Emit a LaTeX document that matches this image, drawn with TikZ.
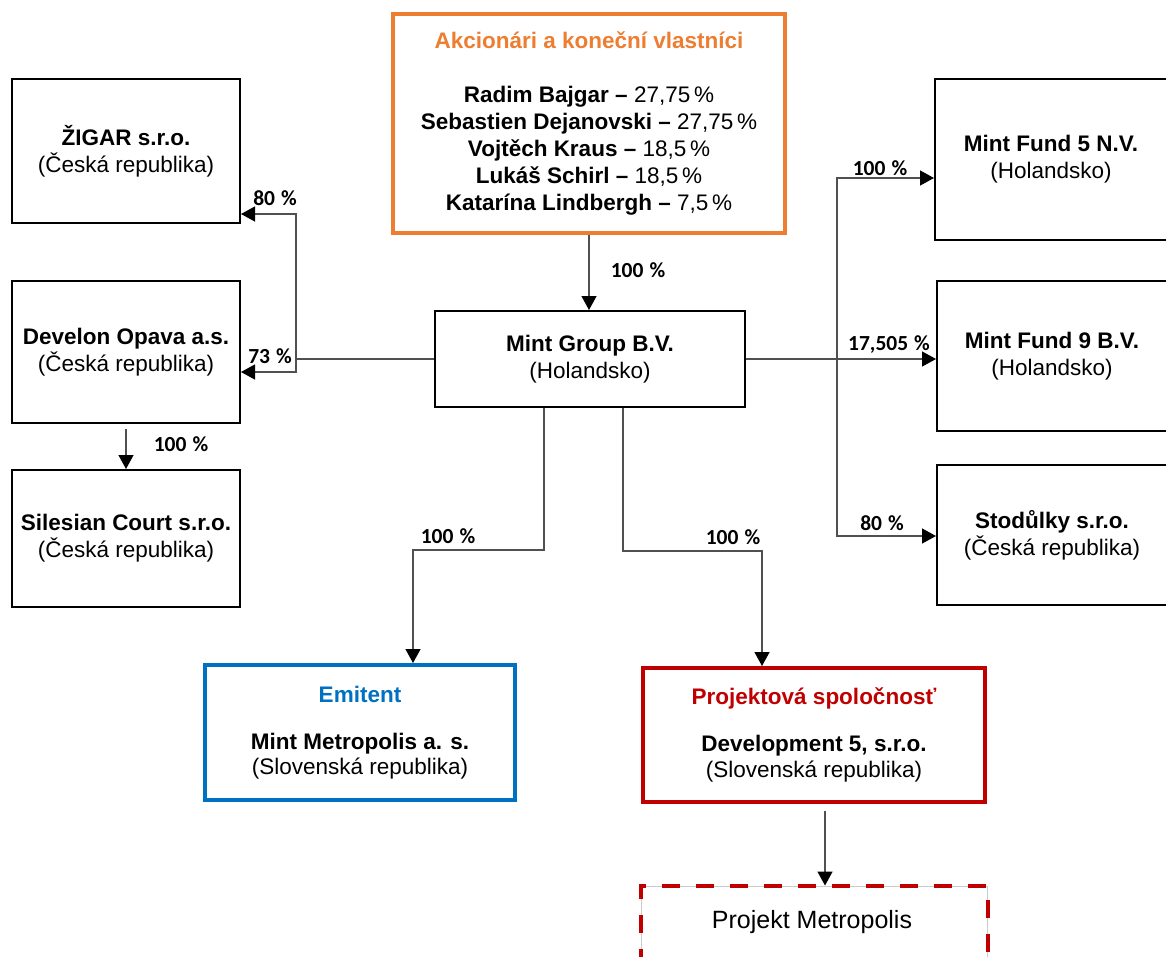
\documentclass[tikz,border=0pt]{standalone}
\usepackage{fontspec}
\setmainfont{Liberation Sans}
\newfontfamily\pctfam{Carlito}
\usetikzlibrary{arrows.meta}
\definecolor{orangeA}{HTML}{ED7D31}
\definecolor{blueA}{HTML}{0070C0}
\definecolor{redA}{HTML}{C00000}
\definecolor{connA}{HTML}{505050}
\newcommand{\pc}{\hspace{0.28em}\%}
\tikzset{
  box/.style={draw=black, line width=2pt, rectangle, inner sep=0pt, align=center,
    font=\fontsize{22.5}{27}\selectfont},
  conn/.style={draw=connA, line width=1.3pt},
  arr/.style={conn, -{Triangle[length=14pt,width=15pt,color=black]}},
  pct/.style={font=\pctfam\bfseries\fontsize{21.5}{22}\selectfont, inner sep=0pt}
}
\begin{document}
\begin{tikzpicture}[x=1pt,y=-1pt]
\useasboundingbox (0,0) rectangle (1166,956);
% boxes
\node[box, draw=orangeA, line width=4pt, minimum width=392pt, minimum height=219pt] (top) at (589,123.5)
  {\textcolor{orangeA}{\textbf{Akcionári a koneční vlastníci}}\\[27pt]
   \textbf{Radim Bajgar –} 27,75\,\%\\
   \textbf{Sebastien Dejanovski –} 27,75\,\%\\
   \textbf{Vojtěch Kraus –} 18,5\,\%\\
   \textbf{Lukáš Schirl –} 18,5\,\%\\
   \textbf{Katarína Lindbergh –} 7,5\,\%};
\node[box, minimum width=228pt, minimum height=144pt] (zig) at (126,151)
  {\textbf{ŽIGAR s.r.o.}\\(Česká republika)};
\node[box, minimum width=228pt, minimum height=142pt] (dev) at (126,352)
  {\textbf{Develon Opava a.s.}\\(Česká republika)};
\node[box, minimum width=228pt, minimum height=137pt] (sil) at (126,538.5)
  {\textbf{Silesian Court s.r.o.}\\(Česká republika)};
\node[box, minimum width=310pt, minimum height=96pt] (mg) at (590,359)
  {\textbf{Mint Group B.V.}\\(Holandsko)};
\node[box, minimum width=232pt, minimum height=161pt] (mf5) at (1051,159.5)
  {\textbf{Mint Fund 5 N.V.}\\(Holandsko)};
\node[box, minimum width=230pt, minimum height=150pt] (mf9) at (1052,356)
  {\textbf{Mint Fund 9 B.V.}\\(Holandsko)};
\node[box, minimum width=230pt, minimum height=140pt] (sto) at (1052,535)
  {\textbf{Stodůlky s.r.o.}\\(Česká republika)};
\node[box, draw=blueA, line width=4pt, minimum width=310pt, minimum height=135pt] (emi) at (360,732.5)
  {\textcolor{blueA}{\textbf{Emitent}}\\[20pt]\textbf{Mint Metropolis a. s.}\\[-2pt](Slovenská republika)};
\node[box, draw=redA, line width=4pt, minimum width=342pt, minimum height=134pt] (proj) at (814,735)
  {\textcolor{redA}{\textbf{Projektová spoločnosť}}\\[20pt]\textbf{Development 5, s.r.o.}\\[-1pt](Slovenská republika)};
\node[box, draw=black!20, line width=1pt, minimum width=346pt, minimum height=80pt] (met) at (814,926) {};
\draw[redA, line width=4pt, dash pattern=on 18pt off 16pt] (met.south west) -- (met.north west) -- (met.north east) -- (met.south east);
\node[font=\fontsize{25}{30}\selectfont, inner sep=0pt] (mettxt) at (812,922) {Projekt Metropolis};
% junction coordinates
\coordinate (jz) at (296,214);
\coordinate (jd) at (296,372);
\coordinate (jr) at (837,359);
\coordinate (jr1) at (837,178);
\coordinate (jr3) at (837,536);
\coordinate (b1) at (544,550);
\coordinate (b2) at (413,550);
\coordinate (b3) at (623,551);
\coordinate (b4) at (762,551);
\coordinate (pm) at (825,811);
% connectors
\draw[arr] (top.south) -- (top.south |- mg.north);
\draw[conn] (mg.west) -- (mg.west -| jz);
\draw[arr] (mg.west -| jz) -- (jz) -- (jz -| zig.east);
\draw[arr] (mg.west -| jz) -- (jd) -- (jd -| dev.east);
\draw[conn] (mg.east) -- (mg.east -| jr);
\draw[arr] (mg.east -| jr) -- (jr1) -- (jr1 -| mf5.west);
\draw[arr] (mg.east -| jr) -- (mg.east -| mf9.west);
\draw[arr] (mg.east -| jr) -- (jr3) -- (jr3 -| sto.west);
\draw[arr] (mg.south -| b1) -- (b1) -- (b2) -- (b2 |- emi.north);
\draw[arr] (mg.south -| b3) -- (b3) -- (b4) -- (b4 |- proj.north);
\draw[arr] ([yshift=-5pt]dev.south) -- (sil.north);
\draw[arr] (pm) -- (pm |- met.north);
% labels
\node[pct] (l1) at (638,270) {100\pc};
\node[pct] (l2) at (275,198) {80\pc};
\node[pct] (l3) at (270,356) {73\pc};
\node[pct] (l4) at (880,168) {100\pc};
\node[pct] (l5) at (889,345) {17,505\pc};
\node[pct] (l6) at (882,523) {80\pc};
\node[pct] (l7) at (448,536) {100\pc};
\node[pct] (l8) at (733,537) {100\pc};
\node[pct] (l9) at (181,444) {100\pc};
\end{tikzpicture}
\end{document}
